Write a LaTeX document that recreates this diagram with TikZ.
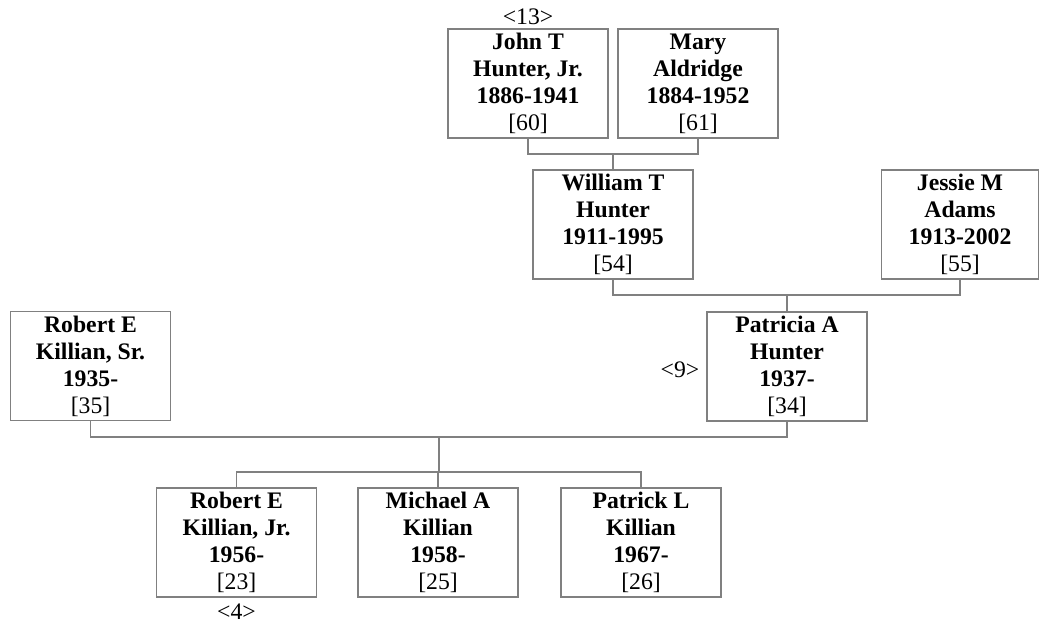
\documentclass[tikz,border=0pt]{standalone}
\usepackage{fontspec}
\setmainfont{Liberation Serif}
\usetikzlibrary{positioning}
\definecolor{linegray}{RGB}{128,128,128}
\tikzset{
  person/.style={draw=linegray, line width=1.2pt, minimum width=160pt, minimum height=109pt,
    inner sep=0pt, align=center, font=\fontsize{23.7}{27}\selectfont},
  tag/.style={inner sep=0pt, font=\fontsize{23.7}{27}\selectfont},
  link/.style={draw=linegray, line width=1.2pt}
}
\newcommand{\pers}[3]{\textbf{#1}\\\textbf{#2}\\#3}
\begin{document}
\begin{tikzpicture}[x=1pt,y=-1pt]
\useasboundingbox (0,0) rectangle (1039,626);
\node[person] (jt) at (528,83.5) {\textbf{John T}\\\textbf{Hunter, Jr.}\\\textbf{1886-1941}\\{[60]}};
\node[person] (ma) at (698,83.5) {\textbf{Mary}\\\textbf{Aldridge}\\\textbf{1884-1952}\\{[61]}};
\node[person] (wt) at (613,224.5) {\textbf{William T}\\\textbf{Hunter}\\\textbf{1911-1995}\\{[54]}};
\node[person, minimum width=157pt] (jm) at (960,224.5) {\textbf{Jessie M}\\\textbf{Adams}\\\textbf{1913-2002}\\{[55]}};
\node[person] (pa) at (787,366.5) {\textbf{Patricia A}\\\textbf{Hunter}\\\textbf{1937-}\\{[34]}};
\node[person] (rs) at (90.5,366) {\textbf{Robert E}\\\textbf{Killian, Sr.}\\\textbf{1935-}\\{[35]}};
\node[person] (rj) at (236.5,542.5) {\textbf{Robert E}\\\textbf{Killian, Jr.}\\\textbf{1956-}\\{[23]}};
\node[person] (mk) at (438,542.5) {\textbf{Michael A}\\\textbf{Killian}\\\textbf{1958-}\\{[25]}};
\node[person] (pk) at (641,542.5) {\textbf{Patrick L}\\\textbf{Killian}\\\textbf{1967-}\\{[26]}};
\node[tag] (t13) at (528,17) {<13>};
\node[tag] (t9) at (680,370) {<9>};
\node[tag] (t4) at (236.5,612) {<4>};
% connectors
\coordinate (m1) at (613,154);
\draw[link] (jt.south) |- (m1) -| (ma.south);
\draw[link] (m1) -- (wt.north);
\coordinate (m2) at (787,295);
\draw[link] (wt.south) |- (m2) -| (jm.south);
\draw[link] (m2) -- (pa.north);
\coordinate (m3) at (439,437);
\draw[link] (rs.south) |- (m3) -| (pa.south);
\coordinate (m4) at (439,472);
\draw[link] (m3) -- (m4);
\draw[link] (rj.north) |- (m4) -| (pk.north);
\draw[link] (m4) -| (mk.north);
\end{tikzpicture}
\end{document}
